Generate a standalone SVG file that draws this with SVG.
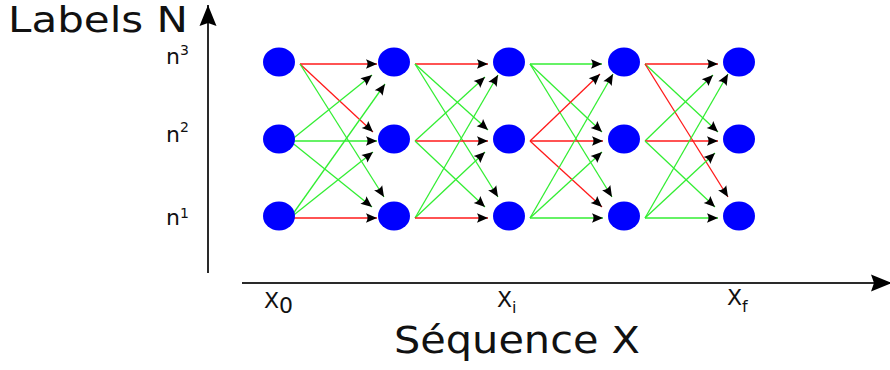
<svg xmlns="http://www.w3.org/2000/svg" width="890" height="370" viewBox="0 0 890 370">
<style>
  .node { fill: #0000ff; }
  .g { stroke: #33ee33; stroke-width: 1.3; fill: none; marker-end: url(#ah); }
  .r { stroke: #ff1a1a; stroke-width: 1.3; fill: none; marker-end: url(#ah); }
  .axis { stroke: #2a2a2a; stroke-width: 2; fill: none; marker-end: url(#axh); }
  text { font-family: "DejaVu Sans", "Liberation Sans", sans-serif; fill: #111; }
</style>
<defs>
  <marker id="ah" markerUnits="userSpaceOnUse" viewBox="-12 -6 13 12" refX="0" refY="0" markerWidth="13" markerHeight="12" orient="auto">
    <path d="M0,0 L-11,-4.8 Q-8,0 -11,4.8 Z" fill="#000"/>
  </marker>
  <marker id="axh" markerUnits="userSpaceOnUse" viewBox="-23 -10 24 20" refX="0" refY="0" markerWidth="24" markerHeight="20" orient="auto">
    <path d="M0,0 L-21,-8.5 L-18,0 L-21,8.5 Z" fill="#000"/>
  </marker>
</defs>

<g id="axes">
  <line class="axis" x1="208" y1="273" x2="208" y2="5"/>
  <line class="axis" x1="242" y1="283" x2="892" y2="283"/>
</g>

<g id="labels">
  <text x="8" y="32" font-size="35" textLength="180" lengthAdjust="spacingAndGlyphs">Labels N</text>
  <text x="394" y="353" font-size="38" textLength="246" lengthAdjust="spacingAndGlyphs">Séquence X</text>
  <text x="166" y="64" font-size="22">n<tspan font-size="14" dy="-9">3</tspan></text>
  <text x="166" y="142" font-size="22">n<tspan font-size="14" dy="-10">2</tspan></text>
  <text x="166" y="225" font-size="22">n<tspan font-size="14" dy="-7">1</tspan></text>
  <text x="264" y="308" font-size="22">X<tspan dy="5">0</tspan></text>
  <text x="497" y="307" font-size="22">X<tspan font-size="16" dy="6">i</tspan></text>
  <text x="727" y="305" font-size="22">X<tspan font-size="16" dy="7">f</tspan></text>
</g>

<g id="connectors">
  <!-- column 0 -> 1 -->
  <line class="r" x1="300" y1="64" x2="377" y2="64"/>
  <line class="r" x1="300" y1="64" x2="373" y2="132"/>
  <line class="g" x1="300" y1="64" x2="384" y2="197"/>
  <line class="g" x1="290" y1="141" x2="372" y2="75"/>
  <line class="g" x1="290" y1="141" x2="377" y2="141"/>
  <line class="g" x1="290" y1="141" x2="372" y2="207"/>
  <line class="g" x1="290" y1="218" x2="385" y2="84"/>
  <line class="g" x1="290" y1="218" x2="373" y2="152"/>
  <line class="r" x1="290" y1="218" x2="377" y2="218"/>
  <!-- column 1 -> 2 -->
  <line class="r" x1="415" y1="64" x2="488" y2="64"/>
  <line class="g" x1="415" y1="64" x2="488" y2="130"/>
  <line class="g" x1="415" y1="64" x2="498" y2="197"/>
  <line class="g" x1="415" y1="141" x2="485" y2="77"/>
  <line class="r" x1="415" y1="141" x2="488" y2="141"/>
  <line class="g" x1="415" y1="141" x2="485" y2="207"/>
  <line class="g" x1="415" y1="218" x2="498" y2="75"/>
  <line class="g" x1="415" y1="218" x2="485" y2="152"/>
  <line class="r" x1="415" y1="218" x2="488" y2="218"/>
  <!-- column 2 -> 3 -->
  <line class="g" x1="530" y1="64" x2="602" y2="64"/>
  <line class="g" x1="530" y1="64" x2="602" y2="132"/>
  <line class="g" x1="530" y1="64" x2="612" y2="197"/>
  <line class="r" x1="530" y1="141" x2="600" y2="74"/>
  <line class="r" x1="530" y1="141" x2="603" y2="141"/>
  <line class="r" x1="530" y1="141" x2="602" y2="207"/>
  <line class="g" x1="530" y1="218" x2="613" y2="74"/>
  <line class="g" x1="530" y1="218" x2="602" y2="152"/>
  <line class="g" x1="530" y1="218" x2="603" y2="218"/>
  <!-- column 3 -> 4 -->
  <line class="r" x1="645" y1="64" x2="718" y2="64"/>
  <line class="g" x1="645" y1="64" x2="718" y2="132"/>
  <line class="r" x1="645" y1="64" x2="728" y2="197"/>
  <line class="g" x1="645" y1="141" x2="713" y2="75"/>
  <line class="r" x1="645" y1="141" x2="718" y2="141"/>
  <line class="g" x1="645" y1="141" x2="715" y2="207"/>
  <line class="g" x1="645" y1="218" x2="728" y2="74"/>
  <line class="g" x1="645" y1="218" x2="715" y2="153"/>
  <line class="g" x1="645" y1="218" x2="718" y2="218"/>
</g>

<g id="n0_3"><ellipse class="node" cx="279" cy="62" rx="16" ry="14.5"/></g>
<g id="n0_2"><ellipse class="node" cx="279" cy="139" rx="16" ry="14.5"/></g>
<g id="n0_1"><ellipse class="node" cx="279" cy="216" rx="16" ry="14.5"/></g>
<g id="n1_3"><ellipse class="node" cx="394" cy="62" rx="16" ry="14.5"/></g>
<g id="n1_2"><ellipse class="node" cx="394" cy="139" rx="16" ry="14.5"/></g>
<g id="n1_1"><ellipse class="node" cx="394" cy="216" rx="16" ry="14.5"/></g>
<g id="n2_3"><ellipse class="node" cx="509" cy="62" rx="16" ry="14.5"/></g>
<g id="n2_2"><ellipse class="node" cx="509" cy="139" rx="16" ry="14.5"/></g>
<g id="n2_1"><ellipse class="node" cx="509" cy="216" rx="16" ry="14.5"/></g>
<g id="n3_3"><ellipse class="node" cx="624" cy="62" rx="16" ry="14.5"/></g>
<g id="n3_2"><ellipse class="node" cx="624" cy="139" rx="16" ry="14.5"/></g>
<g id="n3_1"><ellipse class="node" cx="624" cy="216" rx="16" ry="14.5"/></g>
<g id="n4_3"><ellipse class="node" cx="739" cy="62" rx="16" ry="14.5"/></g>
<g id="n4_2"><ellipse class="node" cx="739" cy="139" rx="16" ry="14.5"/></g>
<g id="n4_1"><ellipse class="node" cx="739" cy="216" rx="16" ry="14.5"/></g>
</svg>
